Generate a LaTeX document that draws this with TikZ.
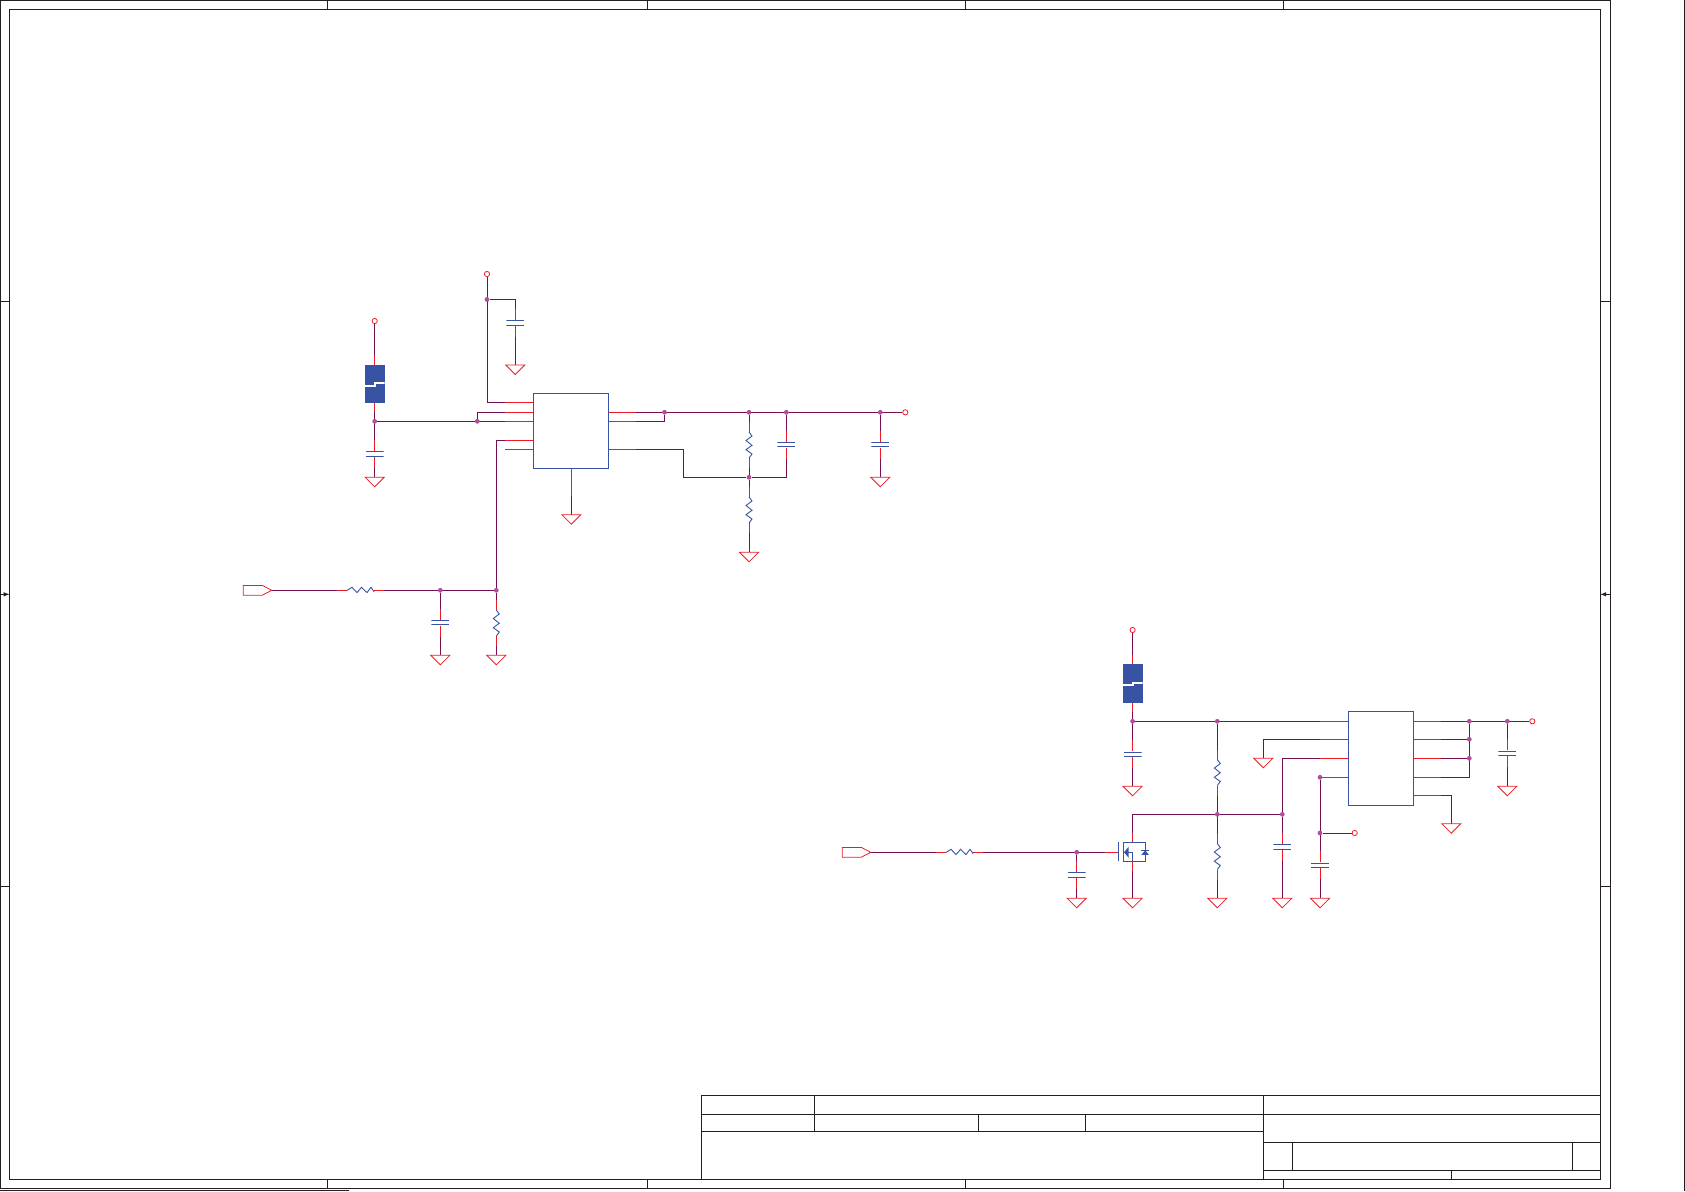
\documentclass[tikz,border=0pt]{standalone}
\usepackage{tikz}
\usetikzlibrary{backgrounds, calc, shapes.geometric, shapes.symbols}
\definecolor{schred}{HTML}{ED1C24}
\definecolor{schblue}{HTML}{3953A4}
\definecolor{schwire}{HTML}{74104F}
\definecolor{schdot}{HTML}{B04E9E}
\definecolor{schline}{HTML}{231F20}
\tikzstyle{frameline}=[draw=schline, line width=1pt]
\tikzstyle{wire}=[draw=schwire, line width=1pt]
\tikzstyle{pinline}=[draw=schred, line width=1pt]
\tikzstyle{sym}=[draw=schblue, line width=0.9pt]
\tikzstyle{symfill}=[fill=schblue]
\tikzstyle{junction}=[circle, fill=schdot, inner sep=0pt, minimum size=4.8pt]
\tikzstyle{term}=[circle, draw=schred, line width=0.8pt, inner sep=0pt, minimum size=5.2pt]
\tikzstyle{ic}=[rectangle, sym, inner sep=0pt]
\tikzstyle{gnd}=[isosceles triangle, isosceles triangle apex angle=90, shape border rotate=-90, draw=schred, line width=0.8pt, inner sep=0pt, outer sep=0pt, minimum width=19pt, minimum height=9.5pt, anchor=lower side]
\tikzstyle{port}=[signal, signal to=east, signal pointer angle=55, draw=schred, line width=0.8pt, inner sep=0pt, outer sep=0pt, minimum width=28.4pt, minimum height=9.7pt, anchor=east]
\tikzstyle{capv}=[rectangle, inner sep=0pt, outer sep=0pt, minimum width=18pt, minimum height=6pt, path picture={
  \draw[sym, shift={(path picture bounding box.center)}] (-9,-2.3) -- (9,-2.3) (-9,2.3) -- (9,2.3);}]
\tikzstyle{resh}=[rectangle, inner sep=0pt, outer sep=0pt, minimum width=27.6pt, minimum height=8pt, path picture={
  \draw[sym, shift={(path picture bounding box.center)}] (-13.8,.3) -- (-8.5,-3) -- (-3.5,2.3) -- (1,-3) -- (6.5,2.3) -- (10.5,-3) -- (13.8,1.7);}]
\tikzstyle{resv}=[rectangle, inner sep=0pt, outer sep=0pt, minimum width=8pt, minimum height=26pt, path picture={
  \draw[sym, shift={(path picture bounding box.center)}] (0,-13) -- (3,-9) -- (-3,-4.5) -- (3,.3) -- (-3,4.7) -- (3,9) -- (0,13);}]
\tikzstyle{ferrite}=[rectangle, fill=schblue, inner sep=0pt, outer sep=0pt, minimum width=20pt, minimum height=38.5pt, path picture={
  \draw[white, line width=1.8pt, shift={(path picture bounding box.center)}] (-10.5,1.8) -- (0,1.8) -- (0,-.9) -- (10.5,-.9);}]
\begin{document}
\begin{tikzpicture}[x=1pt, y=-1pt]
\useasboundingbox (0,0) rectangle (1685,1191);
\draw[frameline] (0.5,0.5) rectangle (1610.3,1188.3);
\draw[frameline] (9.5,9.5) rectangle (1600.3,1179.3);
\draw[frameline] (1684.7,0) -- (1684.7,1191);
\draw[frameline] (0,1190.3) -- (349,1190.3);
\draw[frameline] (327.5,0.5) -- (327.5,9.5) (647,0.5) -- (647,9.5) (965,0.5) -- (965,9.5) (1283,0.5) -- (1283,9.5);
\draw[frameline] (327.5,1179.3) -- (327.5,1188.3) (647,1179.3) -- (647,1188.3) (965,1179.3) -- (965,1188.3) (1283,1179.3) -- (1283,1188.3);
\draw[frameline] (0.5,301.5) -- (9.5,301.5) (0.5,886.5) -- (9.5,886.5);
\draw[frameline] (1600.3,301.5) -- (1610.3,301.5) (1600.3,886.5) -- (1610.3,886.5);
\draw[frameline, -latex] (0.5,594.3) -- (9.5,594.3);
\draw[frameline, -latex] (1610.3,594.3) -- (1600.3,594.3);
\draw[frameline] (701.4,1179.3) -- (701.4,1095.3) -- (1600.3,1095.3);
\draw[frameline] (701.4,1114.3) -- (1600.3,1114.3);
\draw[frameline] (701.4,1131.7) -- (1263.3,1131.7);
\draw[frameline] (1263.3,1142.3) -- (1600.3,1142.3);
\draw[frameline] (1263.3,1170.3) -- (1600.3,1170.3);
\draw[frameline] (814.4,1095.3) -- (814.4,1131.7);
\draw[frameline] (978,1114.3) -- (978,1131.7);
\draw[frameline] (1085.3,1114.3) -- (1085.3,1131.7);
\draw[frameline] (1263.3,1095.3) -- (1263.3,1179.3);
\draw[frameline] (1292.3,1142.3) -- (1292.3,1170.3);
\draw[frameline] (1572.3,1142.3) -- (1572.3,1170.3);
\draw[frameline] (1451.3,1170.3) -- (1451.3,1179.3);

\node[ic, minimum width=75pt, minimum height=75pt] (u1) at (570.8,430.8) {};
\coordinate (u1a) at (533.3,402.3);
\coordinate (u1b) at (533.3,412.3);
\coordinate (u1c) at (533.3,421.3);
\coordinate (u1d) at (533.3,440.3);
\coordinate (u1e) at (533.3,449.3);
\coordinate (u1f) at (608.3,412.3);
\coordinate (u1g) at (608.3,421.3);
\coordinate (u1h) at (608.3,449.3);
\coordinate (u1i) at (571.3,468.3);
\coordinate (b1) at (683.3,477.3);
\node[term] (t1) at (487,274) {};
\node[junction] (j1) at (487,299.5) {};
\node[capv] (c1) at (515.3,323) {};
\node[gnd] (g1) at (515.3,365) {};
\node[term] (t2) at (374.7,321) {};
\node[ferrite] (f1) at (374.7,384) {};
\node[junction] (j2) at (374.7,421.3) {};
\node[capv] (c2) at (374.7,453.8) {};
\node[gnd] (g2) at (374.7,477.3) {};
\node[junction] (j3) at (477.3,421.3) {};
\node[port] (p1) at (271.7,590.3) {};
\node[resh] (r1) at (360.5,590.3) {};
\node[junction] (j4) at (440.3,590.3) {};
\node[junction] (j5) at (496.3,590.3) {};
\node[capv] (c3) at (440.3,622.5) {};
\node[gnd] (g3) at (440.3,655.3) {};
\node[resv] (r2) at (496.3,623) {};
\node[gnd] (g4) at (496.3,655.3) {};
\node[gnd] (g5) at (571.3,514.7) {};
\node[junction] (j6) at (664.5,412.3) {};
\node[junction] (j7) at (749,412.3) {};
\node[junction] (j8) at (786.3,412.3) {};
\node[junction] (j9) at (880.3,412.3) {};
\node[term] (t3) at (905.3,412.3) {};
\node[resv] (r3) at (749,445) {};
\node[junction] (j10) at (749,477.3) {};
\node[resv] (r4) at (749,510) {};
\node[gnd] (g6) at (749,552.3) {};
\node[capv] (c4) at (786.3,444.5) {};
\node[capv] (c5) at (880.3,444.5) {};
\node[gnd] (g7) at (880.3,477.3) {};

\node[ic, minimum width=65pt, minimum height=94pt] (u2) at (1380.8,758.3) {};
\coordinate (u2a) at (1348.3,721.3);
\coordinate (u2b) at (1348.3,739.3);
\coordinate (u2c) at (1348.3,758.3);
\coordinate (u2d) at (1348.3,777.3);
\coordinate (u2e) at (1413.3,721.3);
\coordinate (u2f) at (1413.3,739.3);
\coordinate (u2g) at (1413.3,758.3);
\coordinate (u2h) at (1413.3,777.3);
\coordinate (u2i) at (1413.3,795.3);
\node[term] (t4) at (1132.6,630) {};
\node[ferrite] (f2) at (1132.6,683.5) {};
\node[junction] (j11) at (1132.6,721.3) {};
\node[capv] (c6) at (1132.6,754.3) {};
\node[gnd] (g8) at (1132.6,786.3) {};
\node[junction] (j12) at (1217.3,721.3) {};
\node[resv] (r5) at (1217.3,772.5) {};
\node[junction] (j13) at (1217.3,814.3) {};
\node[resv] (r6) at (1217.3,856.5) {};
\node[gnd] (g9) at (1217.3,898.3) {};
\node[junction] (j14) at (1282.3,814.3) {};
\node[capv] (c7) at (1282.3,846.8) {};
\node[gnd] (g10) at (1282.3,898.3) {};
\node[junction] (j15) at (1320,777.3) {};
\node[junction] (j16) at (1320,833) {};
\node[term] (t5) at (1354.7,833) {};
\node[capv] (c8) at (1320,865.3) {};
\node[gnd] (g11) at (1320,898.3) {};
\node[gnd] (g12) at (1263.3,758.3) {};
\node[junction] (j17) at (1469.3,721.3) {};
\node[junction] (j18) at (1469.3,739.3) {};
\node[junction] (j19) at (1469.3,758.3) {};
\node[junction] (j20) at (1507.3,721.3) {};
\node[term] (t6) at (1532.3,721.3) {};
\node[capv] (c9) at (1507.3,753.3) {};
\node[gnd] (g13) at (1507.3,786.3) {};
\node[gnd] (g14) at (1451.3,823.7) {};
\node[port] (p2) at (870.7,852.3) {};
\node[resh] (r7) at (959.5,852.3) {};
\node[junction] (j21) at (1076.7,852.3) {};
\node[capv] (c10) at (1076.7,874.8) {};
\node[gnd] (g15) at (1076.7,898.3) {};
\node[gnd] (g16) at (1132.6,898.3) {};
\node[ic, minimum width=22pt, minimum height=19pt] (q1) at (1134.7,851.8) {};
\coordinate (qd) at (1132.6,842.3);
\coordinate (qs) at (1132.6,861.3);
\coordinate (qg) at (1118.7,852.3);
\coordinate (qa) at (1118.7,842.3);
\coordinate (qb) at (1118.7,861.3);
\coordinate (qc) at (1123.7,852.3);
\draw[sym] (qa) -- (qb);
\draw[sym] (qc) -- (1132.6,852.3) -- (qs);
\fill[symfill] (1124,852.3) -- (1128.7,846.7) -- (1128.7,857.8) -- cycle;
\fill[symfill] (1145.2,850.3) -- (1141.3,854.9) -- (1149,854.9) -- cycle;
\draw[sym] (1141.3,850.3) -- (1149,850.3);

\begin{scope}[on background layer]
\draw[wire] (t1) |- (u1a);
\draw[wire] (j1) -| (c1.north);
\draw[wire] (c1.south) -- (g1.lower side);
\draw[wire] (t2) -- (f1.north);
\draw[wire] (f1.south) -- (c2.north);
\draw[wire] (c2.south) -- (g2.lower side);
\draw[wire] (j2) -- (u1c);
\draw[wire] (u1b) -| (j3);
\draw[wire] (p1.east) -- (r1.west);
\draw[wire] (r1.east) -- (j5);
\draw[wire] (j5) |- (u1d);
\draw[wire] (j4) -- (c3.north);
\draw[wire] (c3.south) -- (g3.lower side);
\draw[wire] (j5) -- (r2.north);
\draw[wire] (r2.south) -- (g4.lower side);
\draw[wire] (u1i) -- (g5.lower side);
\draw[wire] (u1f) -- (t3);
\draw[wire] (u1g) -| (j6);
\draw[wire] (u1h) -| (b1) -- (j10);
\draw[wire] (j7) -- (r3.north);
\draw[wire] (r3.south) -- (j10);
\draw[wire] (j10) -- (r4.north);
\draw[wire] (r4.south) -- (g6.lower side);
\draw[wire] (j10) -| (c4.south);
\draw[wire] (j8) -- (c4.north);
\draw[wire] (j9) -- (c5.north);
\draw[wire] (c5.south) -- (g7.lower side);

\draw[wire] (t4) -- (f2.north);
\draw[wire] (f2.south) -- (c6.north);
\draw[wire] (c6.south) -- (g8.lower side);
\draw[wire] (j11) -- (u2a);
\draw[wire] (j12) -- (r5.north);
\draw[wire] (r5.south) -- (r6.north);
\draw[wire] (r6.south) -- (g9.lower side);
\draw[wire] (qd) |- (j14);
\draw[wire] (j14) |- (u2c);
\draw[wire] (j14) -- (c7.north);
\draw[wire] (c7.south) -- (g10.lower side);
\draw[wire] (u2b) -| (g12.lower side);
\draw[wire] (u2d) -- (j15);
\draw[wire] (j15) -- (c8.north);
\draw[wire] (j16) -- (t5);
\draw[wire] (c8.south) -- (g11.lower side);
\draw[wire] (u2e) -- (t6);
\draw[wire] (u2f) -- (j18);
\draw[wire] (u2g) -- (j19);
\draw[wire] (u2h) -| (j17);
\draw[wire] (u2i) -| (g14.lower side);
\draw[wire] (j20) -- (c9.north);
\draw[wire] (c9.south) -- (g13.lower side);
\draw[wire] (p2.east) -- (r7.west);
\draw[wire] (r7.east) -- (qg);
\draw[wire] (j21) -- (c10.north);
\draw[wire] (c10.south) -- (g15.lower side);
\draw[wire] (qs) -- (g16.lower side);

\draw[pinline] (u1a) -- ++(-28,0);
\draw[pinline] (u1b) -- ++(-28,0);
\draw[pinline] (u1c) -- ++(-28,0);
\draw[pinline] (u1d) -- ++(-28,0);
\draw[pinline] (u1e) -- ++(-28,0);
\draw[pinline] (u1f) -- ++(28,0);
\draw[pinline] (u1g) -- ++(28,0);
\draw[pinline] (u1h) -- ++(28,0);
\draw[pinline] (u1i) -- ++(0,28);
\draw[pinline] (u2a) -- ++(-28,0);
\draw[pinline] (u2b) -- ++(-28,0);
\draw[pinline] (u2c) -- ++(-28,0);
\draw[pinline] (u2d) -- ++(-28,0);
\draw[pinline] (u2e) -- ++(28,0);
\draw[pinline] (u2f) -- ++(28,0);
\draw[pinline] (u2g) -- ++(28,0);
\draw[pinline] (u2h) -- ++(28,0);
\draw[pinline] (u2i) -- ++(28,0);
\draw[pinline] (f1.north) -- ++(0,-9.5);
\draw[pinline] (f1.south) -- ++(0,9);
\draw[pinline] (f2.north) -- ++(0,-9.5);
\draw[pinline] (f2.south) -- ++(0,9);
\draw[pinline] (c1.north) -- ++(0,-11);
\draw[pinline] (c1.south) -- ++(0,11);
\draw[pinline] (c2.north) -- ++(0,-11);
\draw[pinline] (c2.south) -- ++(0,11);
\draw[pinline] (c3.north) -- ++(0,-11);
\draw[pinline] (c3.south) -- ++(0,11);
\draw[pinline] (c4.north) -- ++(0,-11);
\draw[pinline] (c4.south) -- ++(0,11);
\draw[pinline] (c5.north) -- ++(0,-11);
\draw[pinline] (c5.south) -- ++(0,11);
\draw[pinline] (c6.north) -- ++(0,-11);
\draw[pinline] (c6.south) -- ++(0,11);
\draw[pinline] (c7.north) -- ++(0,-11);
\draw[pinline] (c7.south) -- ++(0,11);
\draw[pinline] (c8.north) -- ++(0,-11);
\draw[pinline] (c8.south) -- ++(0,11);
\draw[pinline] (c9.north) -- ++(0,-11);
\draw[pinline] (c9.south) -- ++(0,11);
\draw[pinline] (c10.north) -- ++(0,-11);
\draw[pinline] (c10.south) -- ++(0,11);
\draw[pinline] (r1.west) -- ++(-10,0);
\draw[pinline] (r1.east) -- ++(10,0);
\draw[pinline] (r7.west) -- ++(-10,0);
\draw[pinline] (r7.east) -- ++(10,0);
\draw[pinline] (r2.north) -- ++(0,-10);
\draw[pinline] (r2.south) -- ++(0,10);
\draw[pinline] (r3.north) -- ++(0,-10);
\draw[pinline] (r3.south) -- ++(0,10);
\draw[pinline] (r4.north) -- ++(0,-10);
\draw[pinline] (r4.south) -- ++(0,10);
\draw[pinline] (r5.north) -- ++(0,-10);
\draw[pinline] (r5.south) -- ++(0,10);
\draw[pinline] (r6.north) -- ++(0,-10);
\draw[pinline] (r6.south) -- ++(0,10);
\draw[pinline] (qd) -- ++(0,-9);
\draw[pinline] (qs) -- ++(0,9.5);
\draw[pinline] (qg) -- ++(-13.7,0);
\end{scope}
\end{tikzpicture}
\end{document}
